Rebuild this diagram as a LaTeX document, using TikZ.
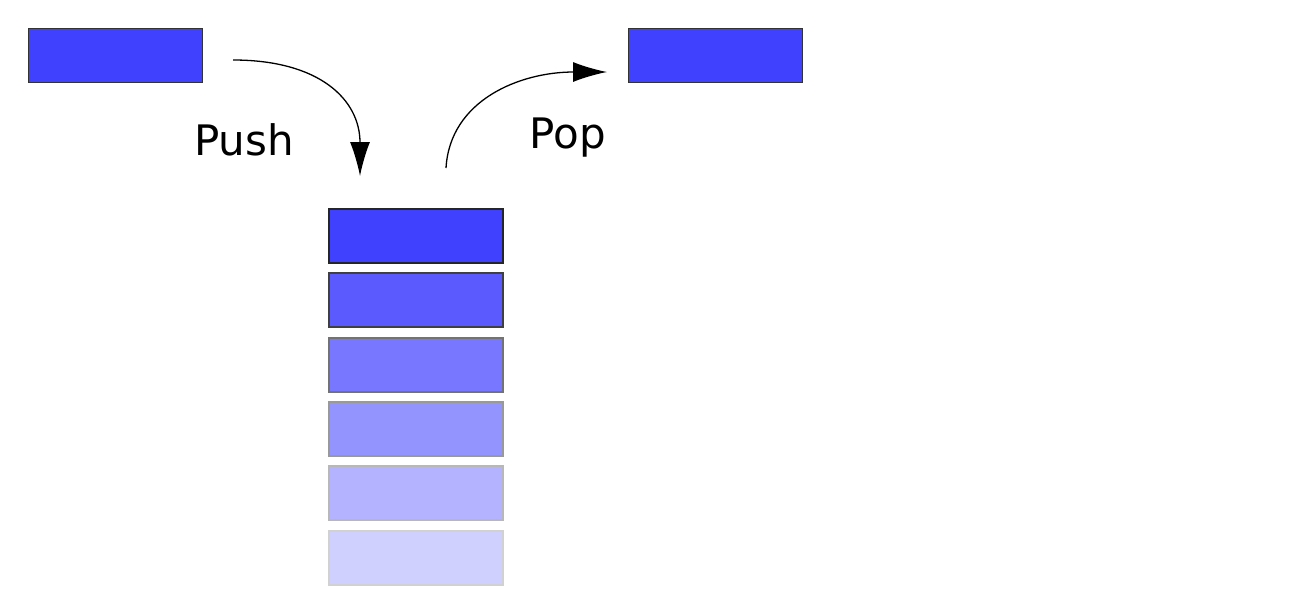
\documentclass[tikz,border=0pt]{standalone}
\usepackage{fontspec}
\setmainfont{DejaVu Sans}
\usetikzlibrary{arrows.meta}
\definecolor{c1}{HTML}{4040FF}
\definecolor{c2}{HTML}{5A5AFF}
\definecolor{c3}{HTML}{7777FF}
\definecolor{c4}{HTML}{9494FF}
\definecolor{c5}{HTML}{B3B3FF}
\definecolor{c6}{HTML}{D0D0FF}
\begin{document}
\begin{tikzpicture}[x=1pt,y=-1pt,
  blk/.style={minimum width=174pt,minimum height=54pt,inner sep=0pt,line width=1.3pt},
  lbl/.style={font=\fontsize{42}{48}\selectfont},
  arr/.style={line width=1.3pt,-{Latex[length=34pt,width=20pt]}}]
\useasboundingbox (0,0) rectangle (1316,595);
\node[blk,fill=c1,draw=black!80] (in) at (115.5,55.5) {};
\node[blk,fill=c1,draw=black!80] (out) at (715.5,55.5) {};
\node[blk,fill=c1,draw=black!85] (s1) at (416,236) {};
\node[blk,fill=c2,draw=black!75] (s2) at (416,300) {};
\node[blk,fill=c3,draw=black!55] (s3) at (416,365) {};
\node[blk,fill=c4,draw=black!40] (s4) at (416,429) {};
\node[blk,fill=c5,draw=black!28] (s5) at (416,493) {};
\node[blk,fill=c6,draw=black!18] (s6) at (416,558) {};
\coordinate (pushA) at (233,60);
\coordinate (pushB) at (360,176);
\coordinate (popA) at (446,168);
\coordinate (popB) at (607,72);
\draw[arr] (pushA) .. controls (320,60) and (360,100) .. (pushB);
\draw[arr] (popA) .. controls (450,100) and (520,72) .. (popB);
\node[lbl] (push) at (244,140) {Push};
\node[lbl] (pop) at (568,138) {Pop};
\end{tikzpicture}
\end{document}
